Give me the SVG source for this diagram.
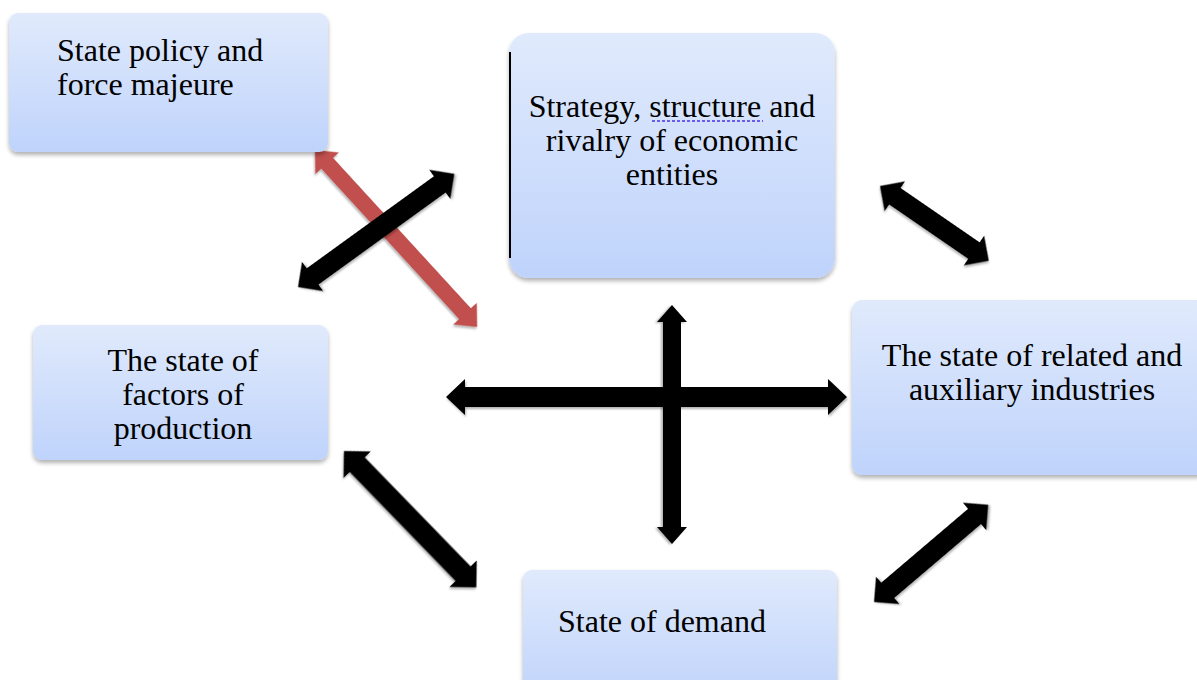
<svg xmlns="http://www.w3.org/2000/svg" width="1197" height="680" viewBox="0 0 1197 680">
<defs>
<linearGradient id="boxfill" x1="0" y1="0" x2="0" y2="1">
<stop offset="0" stop-color="#e0eafc"/>
<stop offset="1" stop-color="#bfd3fb"/>
</linearGradient>
<filter id="shadow" x="-10%" y="-10%" width="120%" height="130%">
<feDropShadow dx="0" dy="3" stdDeviation="2" flood-color="#000" flood-opacity="0.3"/>
</filter>
<filter id="ashadow" x="-20%" y="-20%" width="140%" height="140%">
<feDropShadow dx="1" dy="2" stdDeviation="1.2" flood-color="#000" flood-opacity="0.3"/>
</filter>
</defs>
<style>
.box { fill: url(#boxfill); filter: url(#shadow); }
.lbl { font-family: 'Liberation Serif', 'DejaVu Serif', serif; font-size: 32px; fill: #000; }
.mid { text-anchor: middle; }
.arr { fill: #000; filter: url(#ashadow); }
.red { fill: #c0504d; filter: url(#ashadow); }
</style>
<rect width="1197" height="680" fill="#fff"/>

<g id="connectors">
<polygon class="red" transform="translate(315,150) rotate(47.5)" points="0,0 18,-16 18,-8 222,-8 222,-16 240,0 222,16 222,8 18,8 18,16"/>
<polygon class="arr" transform="translate(298,287) rotate(-35.9)" points="0,0 18,-18 18,-10 175,-10 175,-18 193,0 175,18 175,10 18,10 18,18"/>
<polygon class="arr" transform="translate(880,186) rotate(34.5)" points="0,0 18,-18 18,-10 114,-10 114,-18 132,0 114,18 114,10 18,10 18,18"/>
<polygon class="arr" transform="translate(672,305) rotate(90)" points="0,0 17,-15 17,-9 222,-9 222,-15 239,0 222,15 222,9 17,9 17,15"/>
<polygon class="arr" transform="translate(446,397)" points="0,0 19,-18 19,-10 382,-10 382,-18 401,0 382,18 382,10 19,10 19,18"/>
<polygon class="arr" transform="translate(344,451) rotate(45.85)" points="0,0 19,-19 19,-10.5 171,-10.5 171,-19 190,0 171,19 171,10.5 19,10.5 19,19"/>
<polygon class="arr" transform="translate(874,602) rotate(-40.4)" points="0,0 18,-18 18,-10 132,-10 132,-18 150,0 132,18 132,10 18,10 18,18"/>
</g>

<g id="node-policy">
<rect class="box" x="9" y="13" width="319" height="139" rx="9"/>
<text class="lbl" x="57" y="61">State policy and</text>
<text class="lbl" x="57" y="95">force majeure</text>
</g>

<g id="node-strategy">
<rect class="box" x="509" y="33" width="326" height="245" rx="20"/>
<line x1="510" y1="52" x2="510" y2="258" stroke="#000" stroke-width="2"/>
<text class="lbl mid" x="672" y="117">Strategy, structure and</text>
<text class="lbl mid" x="672" y="151">rivalry of economic</text>
<text class="lbl mid" x="672" y="185">entities</text>
<line x1="652" y1="121" x2="763" y2="121" stroke="#6b5cf0" stroke-width="2" stroke-dasharray="3,2"/>
</g>

<g id="node-factors">
<rect class="box" x="33" y="325" width="295" height="135" rx="9"/>
<text class="lbl mid" x="183" y="371">The state of</text>
<text class="lbl mid" x="183" y="405">factors of</text>
<text class="lbl mid" x="183" y="439">production</text>
</g>

<g id="node-related">
<rect class="box" x="852" y="300" width="355" height="175" rx="10"/>
<text class="lbl mid" x="1032" y="366">The state of related and</text>
<text class="lbl mid" x="1032" y="400">auxiliary industries</text>
</g>

<g id="node-demand">
<rect class="box" x="523" y="570" width="314" height="130" rx="9"/>
<text class="lbl" x="558" y="632">State of demand</text>
</g>
</svg>
